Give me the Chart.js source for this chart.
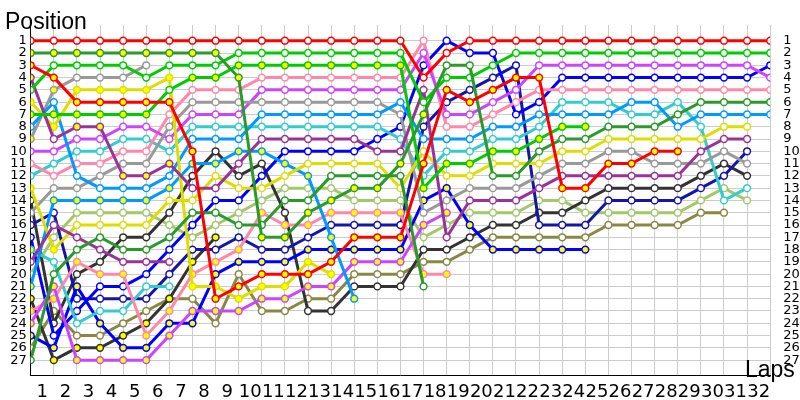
<!DOCTYPE html>
<html>
<head>
<meta charset="utf-8">
<script src="https://cdn.jsdelivr.net/npm/chart.js@4.4.1/dist/chart.umd.min.js"></script>
<style>
  html, body { margin: 0; padding: 0; background: #fff; }
  #wrap { width: 800px; height: 400px; }
</style>
</head>
<body>
<div id="wrap"><canvas id="lapChart" width="800" height="400"></canvas></div>
<script>
// laps (0 = grid) and position ticks
const laps = [0,1,2,3,4,5,6,7,8,9,10,11,12,13,14,15,16,17,18,19,20,21,22,23,24,25,26,27,28,29,30,31,32];
const positionTicks = [1,2,3,4,5,6,7,8,9,10,11,12,13,14,15,16,17,18,19,20,21,22,23,24,25,26,27];
const _ = null;

// position of each car per lap (lap 0 .. 32)
const redA       = [1,1,1,1,1,1,1,1,1,1,1,1,1,1,1,1,1,4,2,1,1,1,1,1,1,1,1,1,1,1,1,1,1];
const redB       = [3,4,6,6,6,6,6,10,22,21,20,20,20,19,17,17,17,11,5,6,5,4,4,13,13,11,11,10,10,_,_,_,_];
const dkgreenA   = [2,2,2,2,2,2,2,2,2,4,17,17,15,14,13,13,11,7,3,3,12,12,10,9,9,8,8,8,7,6,6,6,6];
const dkgreenB   = [27,20,18,17,18,18,17,15,15,16,16,14,14,12,12,12,12,21,_,_,_,_,_,_,_,_,_,_,_,_,_,_,_];
const greenA     = [5,3,3,3,3,4,3,3,3,2,2,2,2,2,2,2,2,6,4,4,3,2,2,2,2,2,2,2,2,2,2,2,2];
const greenB     = [7,7,7,7,7,7,5,4,4,3,3,3,3,3,3,3,3,13,11,11,10,10,9,8,8,_,_,_,_,_,_,_,_];
const purpleA    = [4,9,8,8,12,12,11,13,13,11,9,9,9,9,9,10,10,5,17,14,14,14,13,12,12,12,12,12,12,10,9,9,_];
const purpleB    = [19,16,17,18,19,19,19,_,_,_,_,_,_,_,_,_,_,_,_,_,_,_,_,_,_,_,_,_,_,_,_,_,_];
const yellowA    = [6,8,5,5,5,5,4,21,21,22,21,21,19,20,_,_,_,_,_,_,_,_,_,_,_,_,_,_,_,_,_,_,_];
const yellowB    = [13,18,16,16,16,16,14,14,12,13,13,12,11,11,11,11,13,10,12,12,11,11,11,10,10,9,9,9,9,9,8,8,_];
const lightblueA = [8,6,12,13,13,13,12,9,9,9,7,7,7,7,7,7,6,9,9,9,8,8,7,7,7,7,6,6,8,7,7,7,7];
const lightblueB = [21,14,14,14,14,14,13,11,11,10,10,11,12,17,22,_,_,_,_,_,_,_,_,_,_,_,_,_,_,_,_,_,_];
const grayA      = [9,5,4,4,4,3,_,_,_,_,_,_,_,_,_,_,_,_,_,_,_,_,_,_,_,_,_,_,_,_,_,_,_];
const grayB      = [15,13,13,12,11,11,8,6,6,6,6,6,6,6,6,6,7,15,14,13,13,13,12,11,11,10,10,11,11,11,10,11,_];
const violetA    = [10,10,9,9,8,8,9,7,7,7,5,5,5,5,5,5,5,2,7,7,6,5,3,3,3,3,3,3,3,3,3,3,4];
const violetB    = [24,21,27,27,27,27,25,23,23,23,22,22,21,21,19,19,19,16,15,_,_,_,_,_,_,_,_,_,_,_,_,_,_];
const pinkA      = [11,12,11,11,10,10,7,5,5,5,4,4,4,4,4,4,4,1,8,8,7,6,5,5,5,5,5,5,5,5,5,5,5];
const pinkB      = [23,22,19,20,20,25,23,20,19,18,15,16,16,15,15,15,15,20,20,_,_,_,_,_,_,_,_,_,_,_,_,_,_];
const cyanA      = [12,11,10,10,9,9,10,8,8,8,8,8,8,8,8,8,9,12,10,10,9,9,8,6,6,6,7,7,6,8,14,13,_];
const cyanB      = [18,19,24,23,23,21,21,_,_,_,_,_,_,_,_,_,_,_,_,_,_,_,_,_,_,_,_,_,_,_,_,_,_];
const blueA      = [17,25,23,21,21,20,18,16,14,14,12,10,10,10,10,9,8,3,1,2,2,7,6,4,4,4,4,4,4,4,4,4,3];
const blueB      = [25,26,21,24,26,26,24,24,20,19,19,19,18,18,18,18,18,14,13,16,18,18,18,18,18,_,_,_,_,_,_,_,_];
const navy       = [16,15,22,22,22,22,20,18,18,17,18,18,17,16,16,16,16,8,6,5,4,3,16,16,16,14,14,14,14,13,12,10,_];
const blackA     = [22,27,26,26,25,24,22,19,17,_,_,_,_,_,_,_,_,_,_,_,_,_,_,_,_,_,_,_,_,_,_,_,_];
const blackB     = [14,24,20,19,17,17,15,12,10,12,11,15,23,23,21,21,21,18,18,17,16,16,15,15,14,13,13,13,13,12,11,12,_];
const olive      = [26,23,25,25,24,23,22,22,24,20,23,23,22,22,20,20,20,19,19,18,17,17,17,17,17,16,16,16,16,15,15,_,_];
const lightgreen = [20,17,15,15,15,15,16,17,16,15,14,13,13,13,14,14,14,17,16,15,15,15,14,14,15,15,15,15,15,14,13,14,_];

// laps drawn with a yellow marker (true = every lap)
const dkgreenAYellow = [0,1,2,3,4,5,6,7,8,9,10,11,12,13,14,15,16,17];
const greenBYellow   = [0,1,2,3,4,5,7,8,9,10,11,12,13,14,15,16,17,18,19,20,21,22,23,24];
const purpleAYellow  = [0,2,3,4,5,6];
const startYellow    = [0,1];

const drivers = [
  { pos: redA, color: "#ff0000", yellow: [] },
  { pos: redB, color: "#ff0000", yellow: true },
  { pos: dkgreenA, color: "#2a9a2a", yellow: dkgreenAYellow },
  { pos: dkgreenB, color: "#2a9a2a", yellow: [] },
  { pos: greenA, color: "#00cc00", yellow: [] },
  { pos: greenB, color: "#00cc00", yellow: greenBYellow },
  { pos: purpleA, color: "#993399", yellow: purpleAYellow },
  { pos: purpleB, color: "#993399", yellow: [] },
  { pos: yellowA, color: "#dddd00", yellow: true },
  { pos: yellowB, color: "#dddd00", yellow: startYellow },
  { pos: lightblueA, color: "#0099ff", yellow: [] },
  { pos: lightblueB, color: "#0099ff", yellow: true },
  { pos: grayA, color: "#999999", yellow: startYellow },
  { pos: grayB, color: "#999999", yellow: [] },
  { pos: violetA, color: "#cc44ff", yellow: [] },
  { pos: violetB, color: "#cc44ff", yellow: true },
  { pos: pinkA, color: "#ff88aa", yellow: [] },
  { pos: pinkB, color: "#ff88aa", yellow: true },
  { pos: cyanA, color: "#33cccc", yellow: [] },
  { pos: cyanB, color: "#33cccc", yellow: [0] },
  { pos: blueA, color: "#0000ff", yellow: [] },
  { pos: blueB, color: "#0000ff", yellow: true },
  { pos: navy, color: "#1515aa", yellow: [] },
  { pos: blackA, color: "#333333", yellow: true },
  { pos: blackB, color: "#333333", yellow: [] },
  { pos: olive, color: "#888844", yellow: [] },
  { pos: lightgreen, color: "#a3c86a", yellow: [] }
];

const datasets = drivers.map(d => ({
  data: laps.map(l => ({ x: l, y: d.pos[l] })),
  borderColor: d.color,
  borderWidth: 3,
  pointBorderColor: d.color,
  pointBorderWidth: 1.5,
  pointRadius: 3.4,
  pointBackgroundColor: laps.map(l => (d.yellow === true || d.yellow.includes(l)) ? "#ffff00" : "#ffffff"),
  tension: 0
}));

const gridColor = "#cccccc";
const halfTicks = laps.flatMap(l => l < 32 ? [l, l + 0.5] : [l]);

const titles = {
  id: "titles",
  afterDraw(chart) {
    const c = chart.ctx;
    c.save();
    c.fillStyle = "#000";
    c.font = '23px "Liberation Sans"';
    c.textBaseline = "alphabetic";
    c.fillText("Position", 5, 29);
    c.fillText("Laps", 745, 377);
    c.restore();
  }
};

new Chart(document.getElementById("lapChart"), {
  type: "line",
  data: { datasets },
  plugins: [titles],
  options: {
    responsive: false,
    animation: false,
    layout: { padding: { top: 25 } },
    plugins: { legend: { display: false }, tooltip: { enabled: false } },
    scales: {
      x: {
        type: "linear", min: 0, max: 32,
        afterBuildTicks: s => { s.ticks = halfTicks.map(v => ({ value: v })); },
        afterFit: s => { s.height = 25; },
        grid: {
          drawTicks: false,
          color: ctx => Number.isInteger(ctx.tick.value) ? gridColor : "rgba(0,0,0,0)"
        },
        border: { color: "#000" },
        ticks: {
          autoSkip: false, maxRotation: 0, padding: 7, color: "#000",
          font: { family: "DejaVu Sans", size: 18 },
          callback: v => Number.isInteger(v) ? "" : String(v + 0.5)
        }
      },
      y: {
        type: "linear", reverse: true, min: -0.28, max: 28.21, position: "left",
        afterBuildTicks: s => { s.ticks = positionTicks.map(v => ({ value: v })); },
        afterFit: s => { s.width = 30.7; },
        grid: { color: gridColor, drawTicks: false },
        border: { color: "#000" },
        ticks: { autoSkip: false, padding: 4, color: "#000", font: { family: "DejaVu Sans", size: 13 } }
      },
      y2: {
        type: "linear", reverse: true, min: -0.28, max: 28.21, position: "right",
        afterBuildTicks: s => { s.ticks = positionTicks.map(v => ({ value: v })); },
        afterFit: s => { s.width = 29.8; },
        grid: { display: false },
        border: { display: false },
        ticks: { autoSkip: false, padding: 5, color: "#000", font: { family: "DejaVu Sans", size: 13 } }
      }
    }
  }
});
</script>
</body>
</html>
